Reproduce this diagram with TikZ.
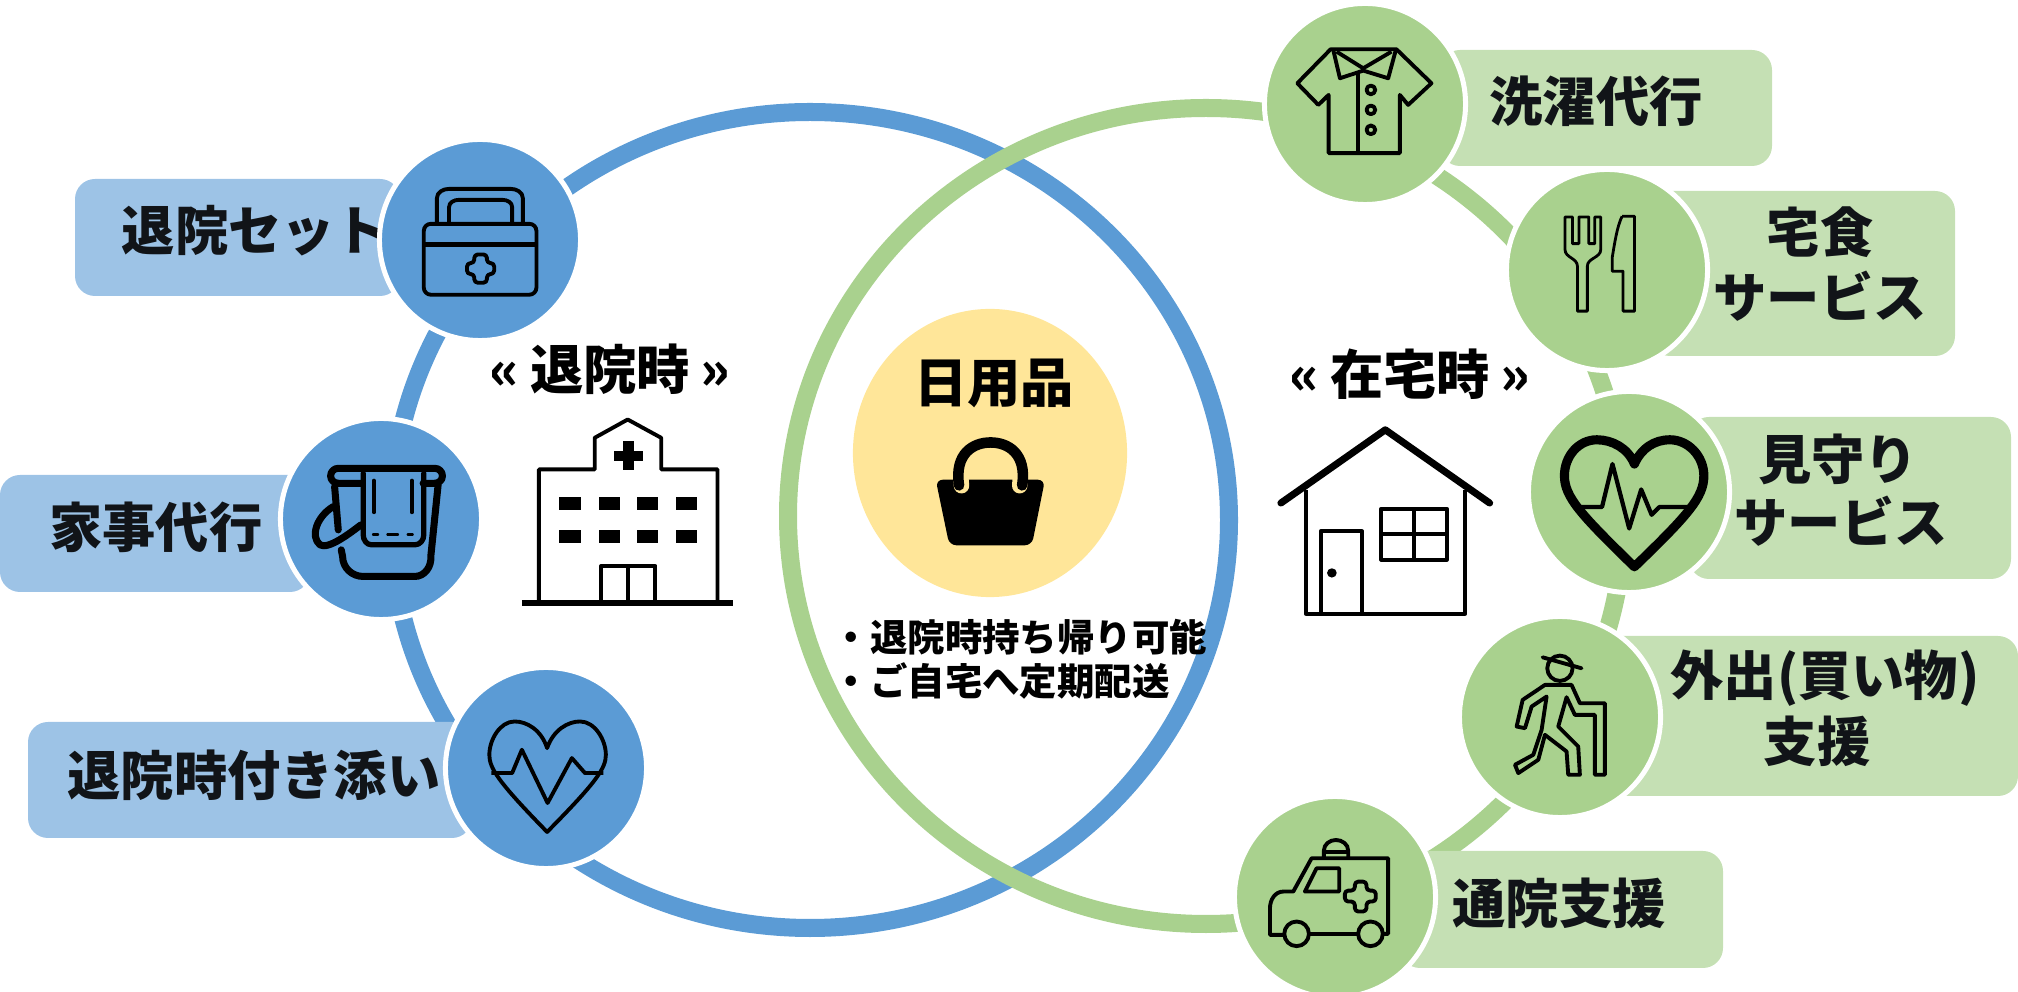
\documentclass[tikz,border=0pt]{standalone}
\usepackage{fontspec}
\usetikzlibrary{shapes.geometric}
\setmainfont{Noto Sans CJK JP}
\definecolor{bluedark}{HTML}{5B9BD5}
\definecolor{bluelight}{HTML}{9DC3E6}
\definecolor{greendark}{HTML}{A9D18E}
\definecolor{greenlight}{HTML}{C5E0B4}
\definecolor{bagyellow}{HTML}{FFE699}
\definecolor{inkdark}{HTML}{111418}
\tikzset{
  ringline/.style={line width=0.18cm},
  hub/.style={circle,draw=white,line width=0.05cm,minimum size=2.01cm,inner sep=0pt},
  tab/.style={rounded corners=0.2cm,inner sep=0pt},
  lbltext/.style={font=\bfseries\fontsize{15.15}{18.5}\selectfont,text=inkdark,inner sep=0pt},
  lblbase/.style={lbltext,anchor=base},
  headtext/.style={font=\bfseries\fontsize{15.15}{18.5}\selectfont,inner sep=0pt},
  icon/.style={line width=1.1pt,line join=round},
  zoomA/.style={x=0.004847cm,y=-0.00333cm},
  zoomB/.style={x=0.00496cm,y=-0.00333cm},
  zoomC/.style={x=0.005217cm,y=-0.0039cm},
  zoomD/.style={x=0.00333cm,y=-0.00333cm}
}
\begin{document}
\begin{tikzpicture}[x=0.01cm,y=-0.01cm]
  \useasboundingbox (0,0) rectangle (2018,992);

  % Rings
  \draw[bluedark,ringline] (810,520) ellipse [x radius=419,y radius=408];
  \draw[greendark,ringline] (1206,516) ellipse [x radius=418,y radius=408];

  % Centre
  \node[fill=bagyellow,ellipse,minimum width=2.74cm,minimum height=2.88cm,inner sep=0pt] (centre) at (990,453) {};
  \node[headtext] (goods) at (994,383) {日用品};
  \node[headtext] (leave) at (610,369) {«\hspace{3pt}退院時\hspace{3pt}»};
  \node[headtext] (home) at (1410,374) {«\hspace{3pt}在宅時\hspace{3pt}»};
  \node[font=\bfseries\fontsize{10.65}{12.5}\selectfont,align=left,anchor=west,inner sep=0pt] (notes) at (832,659)
    {・退院時持ち帰り可能\\・ご自宅へ定期配送};

  % Tabs
  \foreach \nm/\x/\y/\w/\h in {
      tabset/237.5/237.5/325/117,
      tabchores/155/533.5/310/117,
      tabescort/250/780/444/116}{
    \node[tab,fill=bluelight,minimum width=\w*0.01cm,minimum height=\h*0.01cm] (\nm) at (\x,\y) {};
  }
  \foreach \nm/\x/\y/\w/\h in {
      tablaundry/1606/108/332/116,
      tabmeal/1802.5/273.5/305/165,
      tabwatch/1850/498/322/162,
      tabout/1809/716/418/160,
      tabclinic/1561.5/909.5/323/117}{
    \node[tab,fill=greenlight,minimum width=\w*0.01cm,minimum height=\h*0.01cm] (\nm) at (\x,\y) {};
  }

  % Tab texts
  \node[lbltext] (txtset) at (255,231) {退院セット};
  \node[lbltext] (txtchores) at (156,527) {家事代行};
  \node[lbltext] (txtescort) at (254,775) {退院時付き添い};
  \node[lbltext] (txtlaundry) at (1596,101) {洗濯代行};
  \node[lblbase] (txtmeal) at (1820,253) {宅食};
  \node[lblbase] (txtmealb) at (1820,318) {サービス};
  \node[lblbase] (txtwatch) at (1838,480) {見守り};
  \node[lblbase] (txtwatchb) at (1841,543) {サービス};
  \node[lblbase] (txtout) at (1825,696) {外出(買い物)};
  \node[lblbase] (txtoutb) at (1817,762) {支援};
  \node[lbltext] (txtclinic) at (1559,903) {通院支援};

  % Hubs
  \foreach \nm/\x/\y in {hubset/480/240,hubchores/381/519,hubescort/546/768}{
    \node[hub,fill=bluedark] (\nm) at (\x,\y) {};
  }
  \foreach \nm/\x/\y in {hublaundry/1365/104,hubmeal/1607/270,hubwatch/1629/492,hubout/1560/717,hubclinic/1335/897}{
    \node[hub,fill=greendark] (\nm) at (\x,\y) {};
  }

  % First aid box and hospital
  \begin{scope}[shift={(0,120)},zoomA]
    \draw[icon] (900,310) -- (900,235) to[out=90,in=180] (925,207) -- (1052,207) to[out=0,in=90] (1077,235) -- (1077,310);
    \draw[icon] (925,310) -- (925,262) to[out=90,in=180] (945,240) -- (1035,240) to[out=0,in=90] (1055,262) -- (1055,310);
    \draw[icon,rounded corners=2pt] (873,312) rectangle (1105,525);
    \draw[line width=1.5pt] (873,375) -- (1105,375);
    \draw[icon,rounded corners=1pt] (977,404) -- (1003,404) -- (1003,430) -- (1018,430) -- (1018,463) -- (1003,463) -- (1003,489) -- (977,489) -- (977,463) -- (962,463) -- (962,430) -- (977,430) -- cycle;
    % hospital
    \draw[line width=1.6pt] (1075,1451) -- (1510,1451);
    \draw[icon] (1110,1445) -- (1110,1050) -- (1225,1050) -- (1225,955) -- (1293,900) -- (1362,955) -- (1362,1050) -- (1478,1050) -- (1478,1445);
    \fill (1284,965) rectangle (1306,1052);
    \fill (1265,995) rectangle (1325,1025);
    \foreach \wx/\wy in {1152/1132,1233/1132,1312/1132,1392/1132,1152/1232,1233/1232,1312/1232,1392/1232}{
      \fill (\wx,\wy) rectangle ++(44,40);
    }
    \draw[icon] (1238,1445) -- (1238,1340) -- (1350,1340) -- (1350,1445);
    \draw[icon] (1293,1340) -- (1293,1445);
  \end{scope}

  % Thin heart
  \begin{scope}[shift={(0,600)},zoomA]
    \draw[icon] (1127,445) .. controls (1115,390) and (1085,365) .. (1060,365) .. controls (1030,365) and (1008,420) .. (1008,465) .. controls (1008,505) and (1025,545) .. (1127,697) .. controls (1230,545) and (1248,505) .. (1248,465) .. controls (1248,420) and (1225,365) .. (1195,365) .. controls (1170,365) and (1140,390) .. (1127,445) -- cycle;
    \draw[icon] (1012,520) -- (1055,520) -- (1075,450) -- (1128,610) -- (1178,475) -- (1205,520) -- (1243,520);
  \end{scope}

  % Bucket
  \begin{scope}[shift={(300,450)},zoomD,line width=2pt,line cap=round,line join=round]
    \draw (185,100) -- (115,100) to[out=180,in=-90] (92,78) to[out=90,in=180] (115,55) -- (405,55) to[out=0,in=90] (428,78) to[out=-90,in=0] (405,100) -- (370,100);
    \draw[line width=1.5pt] (190,70) -- (190,255) to[out=-90,in=180] (215,285) -- (345,285) to[out=0,in=-90] (372,255) -- (372,70);
    \draw (415,105) -- (393,320) to[out=-85,in=0] (345,380) -- (190,380) to[out=180,in=-90] (128,320) -- (124,300);
    \draw (104,110) -- (115,240);
    \draw (100,170) .. controls (50,200) and (30,260) .. (60,285) .. controls (85,300) and (150,250) .. (183,225);
    \draw[line width=1.1pt,dash pattern=on 9pt off 7pt] (222,92) -- (222,250);
    \draw[line width=1.1pt,dash pattern=on 9pt off 7pt] (336,92) -- (336,250);
    \draw[line width=1.1pt] (222,254) -- (232,254) (265,254) -- (292,254) (326,254) -- (336,254);
  \end{scope}

  % Bag and house
  \begin{scope}[shift={(760,320)},zoomA]
    \fill[rounded corners=2pt] (362,480) -- (390,677) -- (560,677) -- (587,480) -- cycle;
    \draw[bagyellow,line width=4.4pt,line cap=round] (412,440) -- (415,498) (538,440) -- (535,498);
    \draw[line width=3pt,line cap=round] (410,497) .. controls (400,400) and (440,368) .. (475,368) .. controls (510,368) and (550,400) .. (540,497);
    % house
    \draw[line width=2pt,line cap=round,line join=round] (1073,550) -- (1288,330) -- (1503,550);
    \draw[icon] (1125,510) -- (1125,883) -- (1452,883) -- (1452,510);
    \draw[icon] (1155,883) -- (1155,635) -- (1240,635) -- (1240,883);
    \fill (1178,760) ellipse [x radius=10,y radius=14];
    \draw[icon] (1280,567) rectangle (1415,720);
    \draw[icon] (1347,567) -- (1347,720) (1280,642) -- (1415,642);
  \end{scope}

  % Shirt
  \begin{scope}[shift={(1290,40)},zoomD]
    \draw[icon] (122,28) -- (320,28) -- (425,130) -- (355,195) -- (330,165) -- (330,340) -- (116,340) -- (116,165) -- (85,195) -- (22,130) -- cycle;
    \draw[icon] (130,30) -- (150,115) -- (220,92) -- (295,115) -- (318,30);
    \draw[icon] (140,35) -- (220,85) -- (305,35);
    \draw[icon] (205,95) -- (205,335);
    \foreach \by in {150,210,270}{
      \draw[icon] (243,\by) circle [radius=13];
    }
  \end{scope}

  % Fork and knife
  \begin{scope}[shift={(1240,0)},zoomB,line width=0.8pt,line join=round]
    \draw (655,652) -- (655,750) .. controls (655,775) and (680,775) .. (680,800) -- (680,935) -- (700,935) -- (700,800) .. controls (700,775) and (727,775) .. (727,750) -- (727,652) -- (715,652) -- (715,732) -- (703,732) -- (703,652) -- (683,652) -- (683,732) -- (670,732) -- (670,652) -- cycle;
    \draw (770,650) -- (795,650) -- (795,935) -- (772,935) -- (772,815) -- (750,815) -- (750,775) .. controls (755,730) and (760,680) .. (770,650);
  \end{scope}

  % Thick heart
  \begin{scope}[shift={(1200,380)},zoomC]
    \draw[line width=2.6pt,line join=round] (832,215) .. controls (820,175) and (790,153) .. (760,153) .. controls (725,153) and (698,195) .. (698,245) .. controls (698,300) and (730,345) .. (832,478) .. controls (935,345) and (965,300) .. (965,245) .. controls (965,195) and (935,153) .. (900,153) .. controls (870,153) and (845,175) .. (832,215) -- cycle;
    \draw[line width=1.2pt,line join=round] (725,325) -- (770,325) -- (790,215) -- (822,380) -- (845,280) -- (865,345) -- (880,325) -- (945,325);
  \end{scope}

  % Walker
  \begin{scope}[shift={(1500,640)},zoomD]
    \draw[icon] (180,85) circle [radius=38];
    \draw[icon,line cap=round] (128,52) -- (245,85);
    \draw[icon] (135,135) -- (215,135) -- (240,190) -- (315,190) -- (315,405) -- (285,405) -- (285,225) -- (225,225) -- (200,172) -- (175,260) -- (235,320) -- (240,405) -- (205,405) -- (200,335) -- (135,285) -- (115,360) -- (55,400) -- (45,375) -- (100,345) -- (125,270) -- (140,170) -- (95,200) -- (75,265) -- (50,260) -- (68,180) -- cycle;
  \end{scope}

  % Ambulance
  \begin{scope}[shift={(1250,830)},zoomD]
    \draw[icon] (102,315) -- (60,315) -- (60,235) to[out=90,in=180] (100,185) -- (130,185) -- (185,85) -- (415,85) -- (415,312) -- (400,312);
    \draw[icon] (180,312) -- (325,312);
    \draw[icon] (140,312) circle [radius=37];
    \draw[icon] (362,312) circle [radius=37];
    \draw[icon] (200,115) -- (268,115) -- (268,185) -- (165,185) -- cycle;
    \draw[icon,rounded corners=1pt] (315,155) -- (350,155) -- (350,182) -- (378,182) -- (378,215) -- (350,215) -- (350,245) -- (315,245) -- (315,215) -- (285,215) -- (285,182) -- (315,182) -- cycle;
    \draw[icon] (222,85) -- (222,62) to[out=90,in=180] (258,30) to[out=0,in=90] (295,62) -- (295,85);
    \draw[icon] (222,65) -- (295,65);
  \end{scope}
\end{tikzpicture}
\end{document}
